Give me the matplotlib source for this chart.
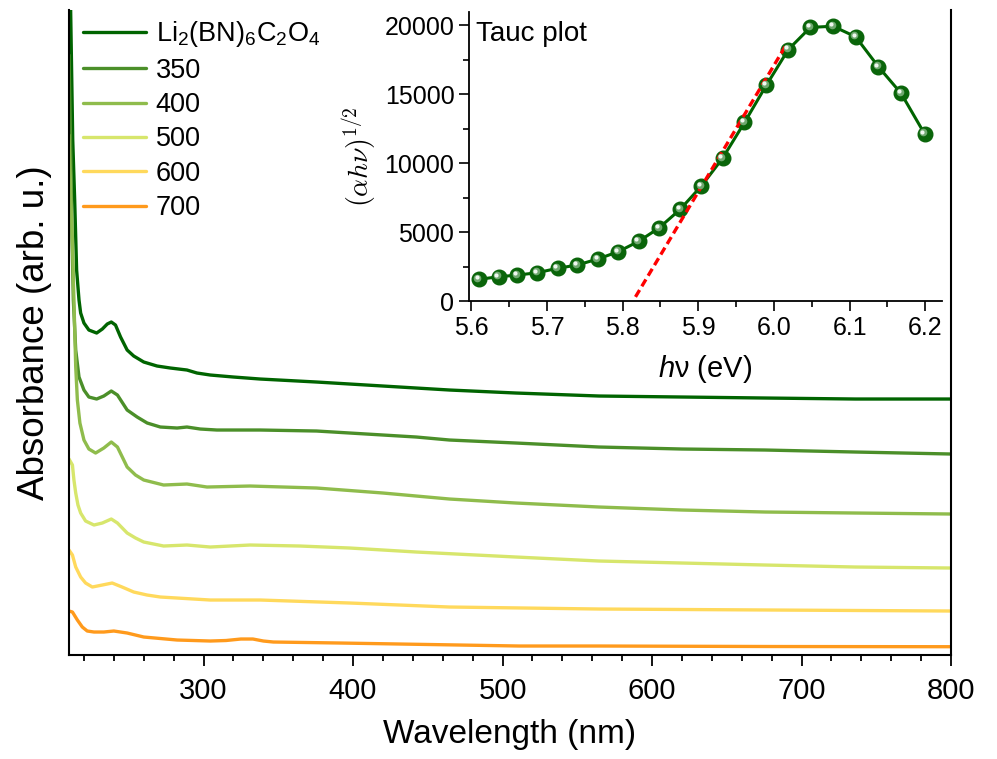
import matplotlib
matplotlib.use('Agg')
import matplotlib.pyplot as plt
import matplotlib.transforms as mtransforms

plt.rcParams['font.family'] = ['Liberation Sans', 'DejaVu Sans']
plt.rcParams['mathtext.fontset'] = 'custom'
plt.rcParams['mathtext.rm'] = 'Liberation Sans'
plt.rcParams['mathtext.it'] = 'Liberation Sans:italic'

# UV-vis spectra (arbitrary absorbance units)
labels = [r'Li$_2$(BN)$_6$C$_2$O$_4$', '350', '400', '500', '600', '700']
colors = ['#006400', '#4b8f29', '#8fbc4c', '#d7e66c', '#ffd95c', '#ff9a1c']

wl_1 = [210, 211.1, 212.5, 213.8, 215.1, 216.7, 217.8, 220.0, 223.3, 228.5, 232.3,
        235.6, 238.3, 241.1, 244.5, 248.9, 253.3, 260, 268.9, 277.8, 288.9, 295.6,
        304.5, 320, 337.8, 375.6, 420, 464.5, 508.9, 564.5, 620, 675.6, 736, 800]
abs_1 = [7.6, 6.45, 5.15, 4.55, 3.85, 3.55, 3.42, 3.32, 3.25, 3.22, 3.26,
         3.31, 3.33, 3.30, 3.18, 3.05, 2.99, 2.93, 2.89, 2.87, 2.85, 2.82,
         2.80, 2.78, 2.76, 2.73, 2.69, 2.65, 2.62, 2.59, 2.58, 2.57, 2.56, 2.56]

wl_2 = [210, 211.2, 212.0, 212.9, 214.5, 216.7, 220.0, 223.3, 228.5, 233.3, 238.3,
        242.4, 248.9, 255.6, 262.3, 271.1, 282.3, 288.9, 297.8, 308.9, 337.8, 375.6,
        397.8, 442.3, 464.5, 508.9, 564.5, 620, 675.6, 736, 800]
abs_2 = [6.0, 5.0, 4.2, 3.55, 3.05, 2.78, 2.65, 2.58, 2.56, 2.59, 2.64,
         2.60, 2.45, 2.38, 2.32, 2.28, 2.27, 2.28, 2.26, 2.25, 2.25, 2.24,
         2.22, 2.18, 2.15, 2.12, 2.08, 2.06, 2.05, 2.03, 2.01]

wl_3 = [210, 211.2, 212.3, 213.3, 214.5, 215.6, 217.3, 220.0, 223.3, 227.8, 233.3,
        238.3, 242.4, 248.9, 254.5, 260, 273.3, 288.9, 302.3, 331.1, 375.6, 420,
        464.5, 508.9, 564.5, 620, 675.6, 736, 800]
abs_3 = [5.2, 4.6, 4.1, 3.55, 2.88, 2.55, 2.32, 2.15, 2.06, 2.02, 2.07,
         2.13, 2.08, 1.88, 1.80, 1.75, 1.70, 1.71, 1.68, 1.69, 1.67, 1.62,
         1.56, 1.52, 1.48, 1.45, 1.43, 1.42, 1.41]

wl_4 = [210, 212.3, 213.3, 214.5, 216.0, 217.8, 221.1, 226.7, 232.3, 238.3, 242.4,
        248.9, 254.5, 260, 273.3, 288.9, 304.5, 331.1, 364.4, 397.8, 442.3, 508.9,
        564.5, 620, 675.6, 736, 800]
abs_4 = [1.96, 1.90, 1.75, 1.62, 1.50, 1.42, 1.34, 1.30, 1.32, 1.36, 1.32,
         1.22, 1.17, 1.13, 1.09, 1.10, 1.08, 1.10, 1.09, 1.07, 1.03, 0.98,
         0.94, 0.92, 0.90, 0.88, 0.87]

wl_5 = [210, 212.3, 214.5, 217.8, 221.1, 225.6, 232.3, 238.9, 245.5, 253.3, 262.2,
        271.1, 304.5, 337.8, 397.8, 464.5, 564.5, 680, 800]
abs_5 = [1.05, 1.00, 0.88, 0.78, 0.72, 0.68, 0.70, 0.72, 0.68, 0.63, 0.60,
         0.58, 0.55, 0.55, 0.52, 0.48, 0.46, 0.45, 0.44]

wl_6 = [210, 212.3, 215.6, 218.9, 222.2, 226.7, 233.3, 240, 248.9, 260, 282.3,
        304.5, 315, 325, 333, 340, 346.7, 391.1, 511.1, 564.5, 680, 800]
abs_6 = [0.44, 0.43, 0.35, 0.28, 0.24, 0.23, 0.23, 0.24, 0.22, 0.18, 0.15,
         0.14, 0.145, 0.16, 0.16, 0.14, 0.13, 0.12, 0.09, 0.09, 0.085, 0.083]

# Tauc plot data
tauc_e = [5.610, 5.636, 5.661, 5.687, 5.714, 5.740, 5.767, 5.794, 5.821, 5.848, 5.876,
          5.904, 5.932, 5.961, 5.990, 6.019, 6.048, 6.078, 6.108, 6.138, 6.168, 6.199]
tauc_y = [1570, 1760, 1880, 2050, 2370, 2610, 3040, 3570, 4320, 5290, 6640,
          8330, 10340, 12940, 15650, 18230, 19830, 19920, 19150, 16980, 15050, 12120]
fit_e = [5.817, 6.016]
fit_y = [300, 18550]

spectra = [(wl_1, abs_1), (wl_2, abs_2), (wl_3, abs_3),
           (wl_4, abs_4), (wl_5, abs_5), (wl_6, abs_6)]

fig = plt.figure(figsize=(9.97, 7.59), dpi=100)
ax = fig.add_axes([0.0692, 0.137, 0.8847, 0.8498])

for (wl, ab), c, lab in zip(spectra, colors, labels):
    ax.plot(wl, ab, color=c, lw=2.4, label=lab, solid_joinstyle='round',
            solid_capstyle='round')

ax.set_xlim(210, 800)
ax.set_ylim(0, 6.45)
ax.set_xticks([300, 400, 500, 600, 700, 800])
ax.set_xticks(range(220, 800, 20), minor=True)
ax.set_yticks([])
ax.spines['top'].set_visible(False)
for s in ['left', 'bottom', 'right']:
    ax.spines[s].set_linewidth(1.5)
ax.tick_params(axis='x', which='major', direction='out', length=8, width=1.3,
               labelsize=21, pad=8)
ax.tick_params(axis='x', which='minor', direction='out', length=4, width=1.3)
ax.set_xlabel('Wavelength (nm)', fontsize=24, labelpad=10)
ax.set_ylabel('Absorbance (arb. u.)', fontsize=26.5, labelpad=12)

ax.legend(loc='upper left', bbox_to_anchor=(-0.006, 1.015), frameon=False,
          fontsize=19.5, handlelength=2.35, handletextpad=0.35, labelspacing=0.31,
          borderaxespad=0.3)

# inset Tauc plot
ins = fig.add_axes([0.4704, 0.6034, 0.4744, 0.3808])
ins.plot(fit_e, fit_y, color='red', lw=2.4, dashes=(2.4, 1.3), zorder=4)
ins.plot(tauc_e, tauc_y, color='#006400', lw=2.2, marker='o', ms=10.5,
         mfc='#0a650a', mec='#0a650a', zorder=3)
hl1 = mtransforms.offset_copy(ins.transData, fig=fig, x=-1.0, y=1.0, units='points')
hl2 = mtransforms.offset_copy(ins.transData, fig=fig, x=-1.5, y=1.5, units='points')
ins.plot(tauc_e, tauc_y, ls='none', marker='o', ms=5.5, mfc='#6fa86f', mec='none',
         transform=hl1, zorder=5)
ins.plot(tauc_e, tauc_y, ls='none', marker='o', ms=3.0, mfc='#f0f7f0', mec='none',
         transform=hl2, zorder=6)

ins.set_xlim(5.597, 6.222)
ins.set_ylim(0, 20950)
ins.set_xticks([5.6, 5.7, 5.8, 5.9, 6.0, 6.1, 6.2])
ins.set_xticklabels(['5.6', '5.7', '5.8', '5.9', '6.0', '6.1', '6.2'])
ins.set_xticks([5.65, 5.75, 5.85, 5.95, 6.05, 6.15], minor=True)
ins.set_yticks([0, 5000, 10000, 15000, 20000])
ins.set_yticks([2500, 7500, 12500, 17500], minor=True)
ins.spines['top'].set_visible(False)
ins.spines['right'].set_visible(False)
for s in ['left', 'bottom']:
    ins.spines[s].set_linewidth(1.3)
ins.tick_params(which='major', direction='out', length=7, width=1.2, labelsize=18)
ins.tick_params(which='minor', direction='out', length=4, width=1.2)
ins.set_xlabel(r'$h$ν (eV)', fontsize=21, labelpad=10)
ins.set_ylabel(r'$(\alpha h\nu)^{1/2}$', fontsize=20, math_fontfamily='cm', labelpad=4)
ins.text(0.015, 0.97, 'Tauc plot', transform=ins.transAxes, fontsize=20,
         ha='left', va='top')
ins.patch.set_alpha(0)

fig.savefig('out.png', dpi=100)
